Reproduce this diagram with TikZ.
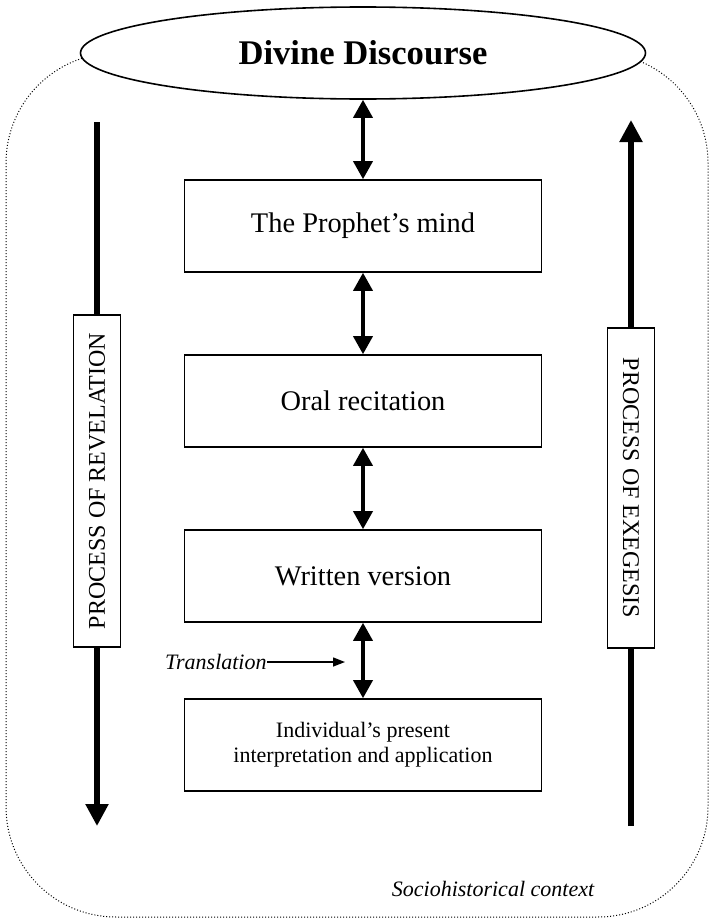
\documentclass[tikz,border=0pt]{standalone}
\usepackage{fontspec}
\setmainfont{Liberation Serif}
\usetikzlibrary{arrows.meta,shapes.geometric}
\tikzset{
	stage/.style={draw,line width=0.8pt,fill=white,minimum width=178.5pt,minimum height=46pt,font=\fontsize{14.2}{17}\selectfont},
	process/.style={draw,line width=0.7pt,fill=white,minimum height=23.5pt,inner sep=2pt,font=\fontsize{12}{14}\selectfont},
	link/.style={line width=1.8pt,{Triangle[length=9pt,width=9.5pt]}-{Triangle[length=9pt,width=9.5pt]}},
	flow/.style={line width=2.6pt,-{Triangle[length=11pt,width=11pt]}},
}
\begin{document}
\begin{tikzpicture}[x=0.5pt,y=-0.5pt]
			\useasboundingbox (0,0) rectangle (712,921);
			\draw[densely dotted,line width=0.5pt,rounded corners=55pt] (6,53) rectangle (708,917);%context frame
			\node[ellipse,draw,fill=white,line width=0.8pt,minimum width=282.5pt,minimum height=46pt,inner sep=0pt,font=\bfseries\fontsize{17.3}{20}\selectfont] (divine) at (363,53) {Divine Discourse};
			
			\node[stage] (mind) at (363,226) {The Prophet’s mind};
			\node[stage] (oral) at (363,401) {Oral recitation};
			\node[stage] (written) at (363,576) {Written version};
			\node[stage,align=center,font=\fontsize{11}{12.6}\selectfont] (individual) at (363,745) {Individual’s present\\interpretation and application};
			
			\draw[link] (divine.south) -- (mind.north);
			\draw[link] (mind.south) -- (oral.north);
			\draw[link] (oral.south) -- (written.north);
			\draw[link] (written.south) -- (individual.north);
			
			\node[anchor=east,inner sep=0pt,font=\itshape\fontsize{11}{13}\selectfont] (translation) at (267,662) {Translation};
			\coordinate (translation end) at (345,662);
			\draw[line width=0.7pt,-{Triangle[length=6pt,width=4.5pt]}] (translation.east) -- (translation end);%translation
			
			\coordinate (revelation top) at (97,122);
			\coordinate (revelation end) at (97,826);
			\draw[flow] (revelation top) -- (revelation end);
			\node[process,rotate=90,minimum width=166pt] (revelation) at (97,481) {PROCESS OF REVELATION};
			
			\coordinate (exegesis bottom) at (631,826);
			\coordinate (exegesis end) at (631,120);
			\draw[flow] (exegesis bottom) -- (exegesis end);
			\node[process,rotate=-90,minimum width=160pt] (exegesis) at (631,488) {PROCESS OF EXEGESIS};
			
			\node[font=\itshape\fontsize{11}{13}\selectfont] (context) at (493,889) {Sociohistorical context};
		\end{tikzpicture}
\end{document}
